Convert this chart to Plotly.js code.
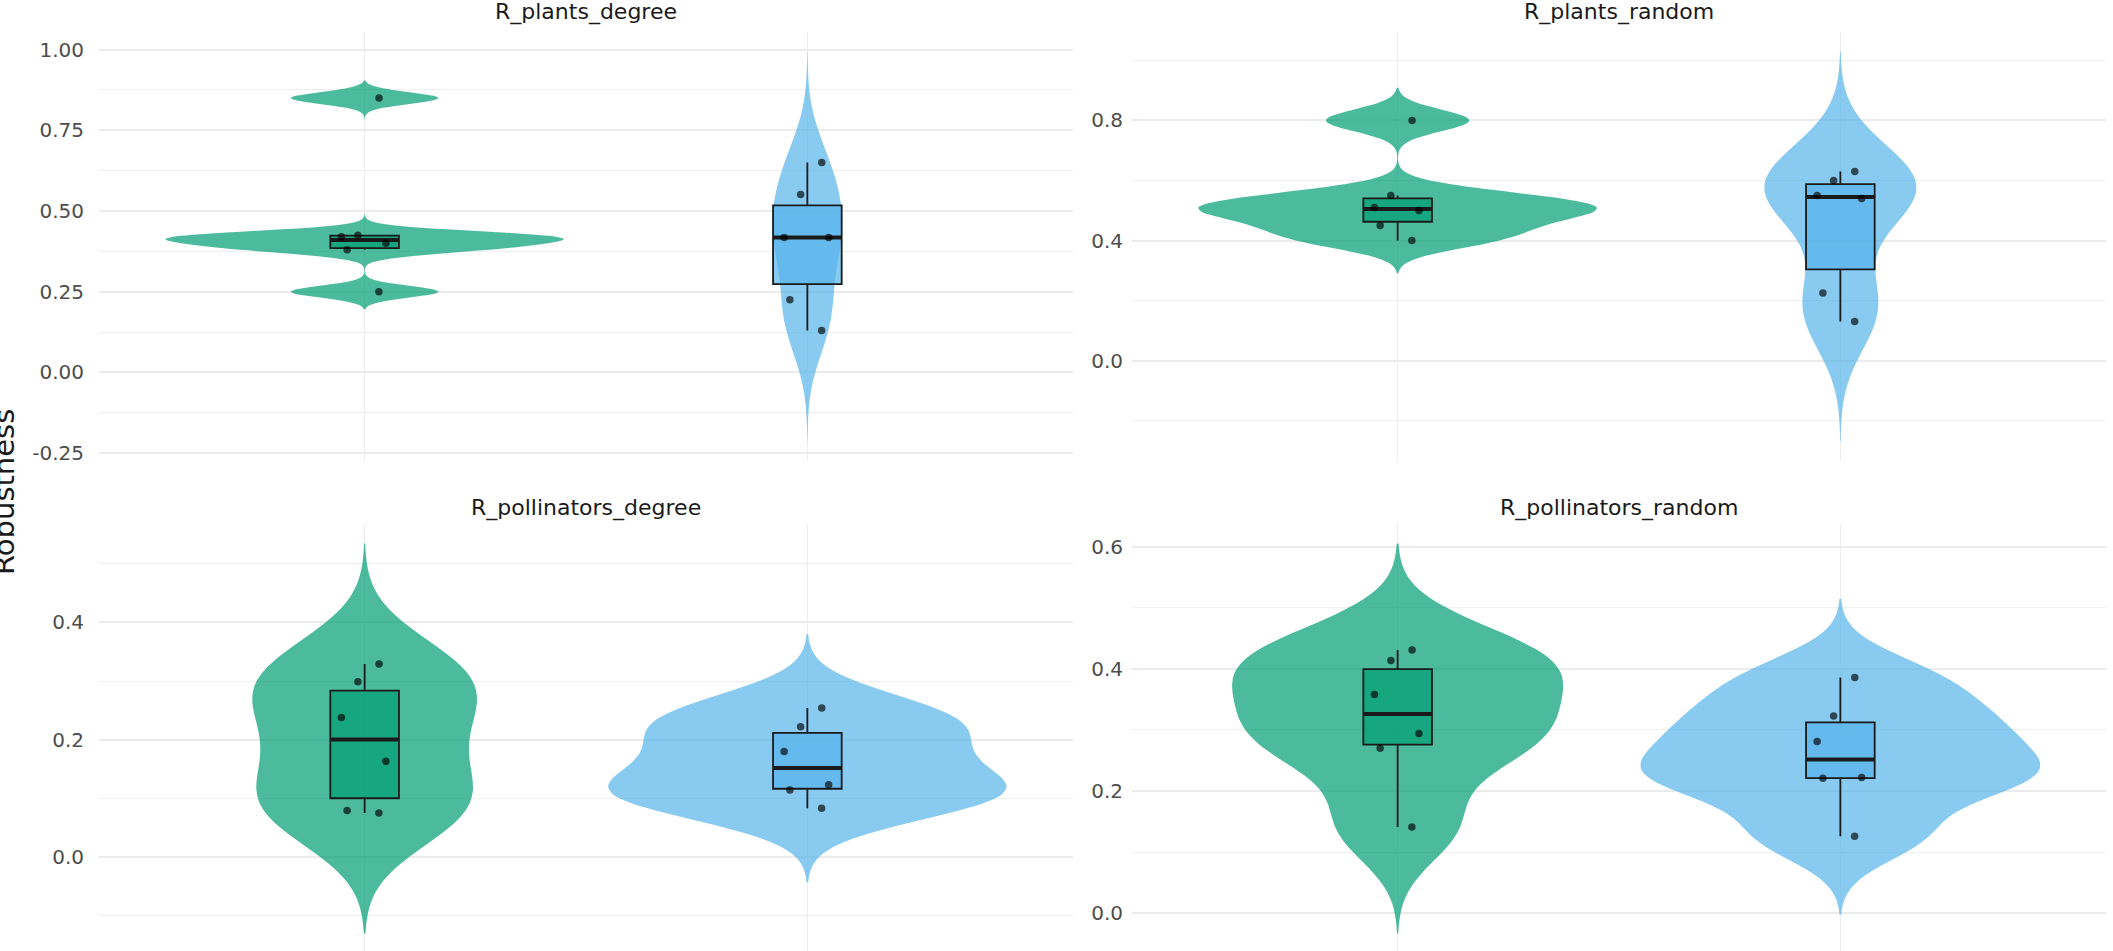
<!DOCTYPE html>
<html>
<head>
<meta charset="utf-8">
<script src="https://cdn.plot.ly/plotly-3.0.1.min.js"></script>
<style>html,body{margin:0;padding:0;overflow:hidden;background:#ffffff;}</style>
</head>
<body>
<div id="chart" style="width:2113px;height:960px;"></div>
<script>
// ---------------- data ----------------
const groups = ['group 1', 'group 2'];          // x categories (labels not shown in the figure)
const panelTitles = ['R_plants_degree', 'R_plants_random', 'R_pollinators_degree', 'R_pollinators_random'];
const yTitle = 'Robustness';

const plantsDegreeG1 = [0.25, 0.38, 0.40, 0.42, 0.425, 0.85];
const plantsDegreeG2 = [0.13, 0.225, 0.418, 0.418, 0.551, 0.65];
const plantsRandomG1 = [0.40, 0.45, 0.50, 0.51, 0.55, 0.80];
const plantsRandomG2 = [0.13, 0.225, 0.54, 0.55, 0.60, 0.63];
const pollDegreeG1 = [0.075, 0.079, 0.163, 0.238, 0.299, 0.329];
const pollDegreeG2 = [0.083, 0.114, 0.123, 0.18, 0.222, 0.254];
const pollRandomG1 = [0.141, 0.27, 0.294, 0.358, 0.4135, 0.431];
const pollRandomG2 = [0.126, 0.221, 0.222, 0.281, 0.323, 0.386];

const majorTicks = [[-0.25, 0, 0.25, 0.5, 0.75, 1], [0, 0.4, 0.8], [0, 0.2, 0.4], [0, 0.2, 0.4, 0.6]];
const majorLabels = [['-0.25', '0.00', '0.25', '0.50', '0.75', '1.00'], ['0.0', '0.4', '0.8'], ['0.0', '0.2', '0.4'], ['0.0', '0.2', '0.4', '0.6']];
const minorTicks = [[-0.125, 0.125, 0.375, 0.625, 0.875], [-0.2, 0.2, 0.6, 1.0], [-0.1, 0.1, 0.3, 0.5], [0.1, 0.3, 0.5]];

// ---------------- styling ----------------
const fills = ['rgba(0,158,115,0.7)', 'rgba(86,180,233,0.7)'];
const W = 2113, H = 960;
const panelsPx = [ // [x0,x1,y0,y1] in pixels (y from top)
  [99, 1073, 32, 461], [1132, 2106, 32, 461],
  [99, 1073, 524, 953], [1132, 2106, 524, 953]
];
const FONT = 'DejaVu Sans, Arial, sans-serif';

// ---------------- helpers ----------------
function q7(s, p) { const h = (s.length - 1) * p, lo = Math.floor(h), hi = Math.ceil(h); return s[lo] + (h - lo) * (s[hi] - s[lo]); }
function sdev(a) { const m = a.reduce((x, y) => x + y, 0) / a.length; return Math.sqrt(a.reduce((x, y) => x + (y - m) * (y - m), 0) / (a.length - 1)); }
function bwNrd0(a) { const s = a.slice().sort((x, y) => x - y); const iqr = q7(s, 0.75) - q7(s, 0.25); const lo = Math.min(sdev(a), iqr / 1.34); return 0.9 * lo * Math.pow(a.length, -0.2); }
function boxStats(a) {
  const s = a.slice().sort((x, y) => x - y);
  const q1 = q7(s, 0.25), med = q7(s, 0.5), q3 = q7(s, 0.75), iqr = q3 - q1;
  const lf = Math.min(...s.filter(v => v >= q1 - 1.5 * iqr));
  const uf = Math.max(...s.filter(v => v <= q3 + 1.5 * iqr));
  return {q1, med, q3, lf, uf};
}

const panelData = [[plantsDegreeG1, plantsDegreeG2], [plantsRandomG1, plantsRandomG2], [pollDegreeG1, pollDegreeG2], [pollRandomG1, pollRandomG2]];

const violins = [], boxes = [], medians = [], pts = [];
const layout = {
  width: W, height: H, margin: {l: 0, r: 0, t: 0, b: 0},
  paper_bgcolor: '#ffffff', plot_bgcolor: '#ffffff',
  showlegend: false, hovermode: false,
  violinmode: 'overlay', violingap: 0.1, violingroupgap: 0, boxmode: 'overlay',
  annotations: []
};

panelData.forEach((pd, i) => {
  const sfx = i === 0 ? '' : String(i + 1);
  const xa = 'x' + sfx, ya = 'y' + sfx;
  let lo = Infinity, hi = -Infinity;
  pd.forEach((vals, g) => {
    const bw = bwNrd0(vals);
    const span = [Math.min(...vals) - 3 * bw, Math.max(...vals) + 3 * bw];
    lo = Math.min(lo, span[0]); hi = Math.max(hi, span[1]);
    const xs = vals.map(() => groups[g]);
    violins.push({
      type: 'violin', x: xs, y: vals, xaxis: xa, yaxis: ya,
      bandwidth: bw, spanmode: 'manual', span: span,
      scalegroup: 'panel' + i, scalemode: 'width',
      fillcolor: fills[g], line: {width: 0, color: 'rgba(0,0,0,0)'},
      points: false, box: {visible: false}, meanline: {visible: false}, hoverinfo: 'skip'
    });
    const st = boxStats(vals);
    boxes.push({
      type: 'box', orientation: 'v', x: [groups[g]], q1: [st.q1], median: [st.med], q3: [st.q3],
      lowerfence: [st.lf], upperfence: [st.uf], xaxis: xa, yaxis: ya, width: 0.155,
      fillcolor: fills[g], line: {color: '#1a1a1a', width: 1.8}, whiskerwidth: 0, boxpoints: false, hoverinfo: 'skip'
    });
    medians.push({
      type: 'box', orientation: 'v', x: [groups[g]], q1: [st.med], median: [st.med], q3: [st.med],
      lowerfence: [st.med], upperfence: [st.med], xaxis: xa, yaxis: ya, width: 0.155,
      fillcolor: 'rgba(0,0,0,0)', line: {color: '#1a1a1a', width: 4}, whiskerwidth: 0, boxpoints: false, hoverinfo: 'skip'
    });
    pts.push({
      type: 'box', x: xs, y: vals, xaxis: xa, yaxis: ya, width: 0.155,
      boxpoints: 'all', jitter: 0.8, pointpos: 0,
      fillcolor: 'rgba(0,0,0,0)', line: {width: 0, color: 'rgba(0,0,0,0)'},
      marker: {color: 'rgba(0,0,0,0.65)', size: 7.5, line: {width: 0}}, hoverinfo: 'skip'
    });
  });
  const pad = 0.05 * (hi - lo);
  const px = panelsPx[i];
  const left = (i % 2 === 0);
  layout['xaxis' + sfx] = {
    domain: [px[0] / W, px[1] / W], anchor: ya, type: 'category', categoryarray: groups, categoryorder: 'array',
    range: [-0.6, 1.6], showticklabels: false, ticks: '', showgrid: true, gridcolor: '#EEEEEE', gridwidth: 1.5,
    zeroline: false, showline: false, fixedrange: true
  };
  layout['yaxis' + sfx] = {
    domain: [1 - px[3] / H, 1 - px[2] / H], anchor: xa, range: [lo - pad, hi + pad],
    tickmode: 'array', tickvals: majorTicks[i], ticktext: majorLabels[i], ticks: '',
    showgrid: true, gridcolor: '#EBEBEB', gridwidth: 2, zeroline: false, showline: false,
    ticklabelstandoff: left ? 14 : 8,
    tickfont: {family: FONT, size: 20, color: '#4D4D4D'},
    minor: {tickmode: 'array', tickvals: minorTicks[i], showgrid: true, gridcolor: '#EFEFEF', gridwidth: 1, ticks: ''},
    fixedrange: true
  };
  layout.annotations.push({
    text: panelTitles[i], xref: 'paper', yref: 'paper', showarrow: false,
    x: (px[0] + px[1]) / 2 / W, y: 1 - (i < 2 ? 12 : 508) / H, xanchor: 'center', yanchor: 'middle',
    font: {family: FONT, size: 22, color: '#1A1A1A'}
  });
});

layout.annotations.push({
  text: yTitle, xref: 'paper', yref: 'paper', showarrow: false, textangle: -90,
  x: 4 / W, y: 1 - 492 / H, xanchor: 'center', yanchor: 'middle',
  font: {family: FONT, size: 29, color: '#1A1A1A'}
});

Plotly.newPlot('chart', violins.concat(boxes, medians, pts), layout, {displayModeBar: false, staticPlot: true});
</script>
</body>
</html>
